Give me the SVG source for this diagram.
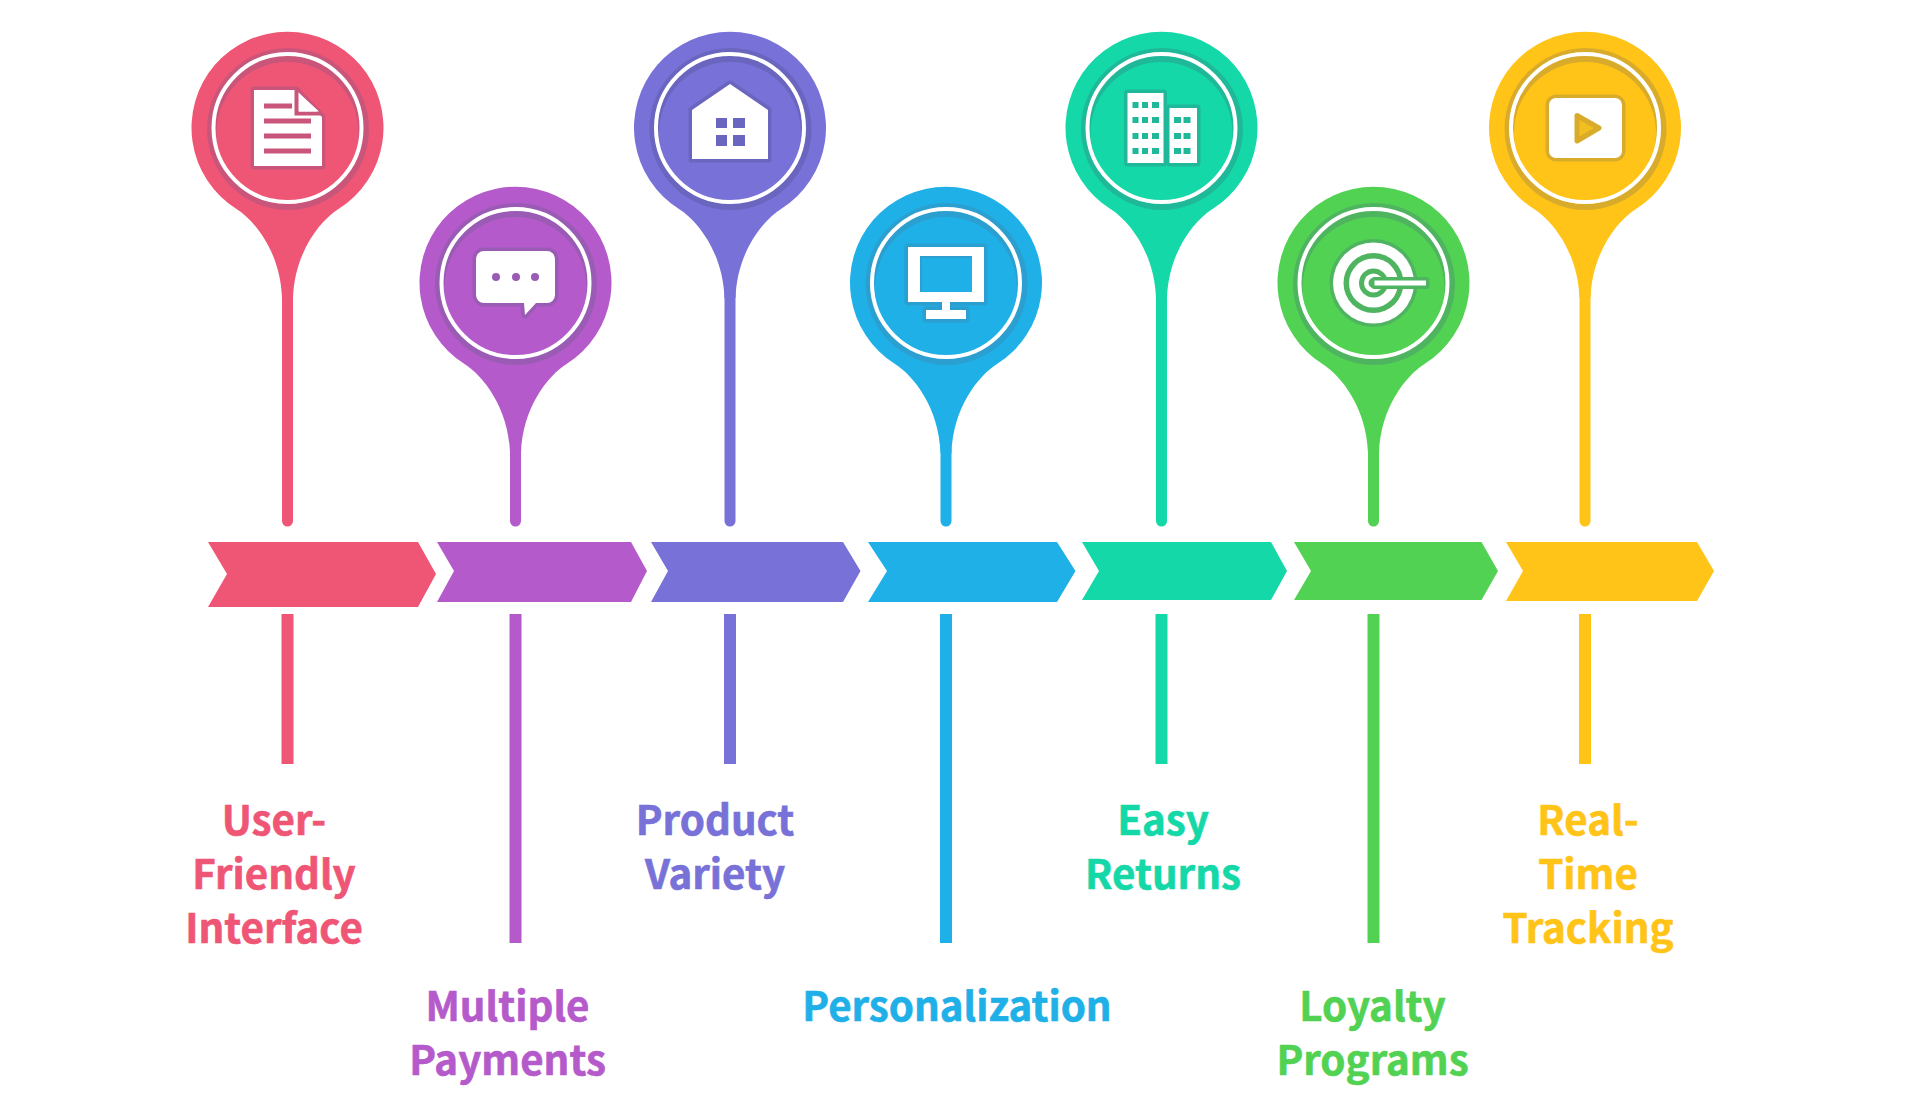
<svg xmlns="http://www.w3.org/2000/svg" width="1920" height="1099" viewBox="0 0 1920 1099">
<style>
.n1{--c:#EF5675;--d:#C9567A}
.n2{--c:#B55ACB;--d:#9A5BB4}
.n3{--c:#7771D8;--d:#6A65BE}
.n4{--c:#1FB0E8;--d:#2B9FCF}
.n5{--c:#14D8A8;--d:#1FB898}
.n6{--c:#52D253;--d:#4FB460}
.n7{--c:#FFC417;--d:#D9AB2B}
.base{fill:var(--c)}
.dark{fill:var(--d)}
.ring{fill:none;stroke:#fff;stroke-width:4}
.ic{fill:#fff;stroke:var(--d);stroke-width:7;paint-order:stroke;stroke-linejoin:round}
.mark{fill:var(--d)}
.st{stroke:var(--c);stroke-width:11;stroke-linecap:round;fill:none}
.sb{stroke:var(--c);stroke-width:12;fill:none}
text{font-family:"Noto Sans CJK SC","Noto Sans",sans-serif;font-weight:700;font-size:40.300px;text-anchor:middle;fill:var(--c);stroke:var(--c);stroke-width:.6}
</style>
<defs>
<g id="head">
<path class="base" d="M-51 81A96 96 0 1 1 51 81C32 93 7 125 5.500 170H-5.500C-7 125 -32 93 -51 81Z"/>
<circle class="dark" cx="0.500" cy="1" r="81"/>
<circle class="dark" r="72"/>
<circle class="base" cy="5" r="71"/>
<circle class="ring" r="74"/>
</g>
</defs>
<rect width="1920" height="1099" fill="#fff"/>
<g id="connectors">
<g class="n1"><line class="st" x1="287.500" y1="290" x2="287.500" y2="521"/><line class="sb" x1="287.500" y1="614" x2="287.500" y2="764"/></g>
<g class="n2"><line class="st" x1="515.500" y1="450" x2="515.500" y2="521"/><line class="sb" x1="515.500" y1="614" x2="515.500" y2="943"/></g>
<g class="n3"><line class="st" x1="730" y1="290" x2="730" y2="521"/><line class="sb" x1="730" y1="614" x2="730" y2="764"/></g>
<g class="n4"><line class="st" x1="946" y1="450" x2="946" y2="521"/><line class="sb" x1="946" y1="614" x2="946" y2="943"/></g>
<g class="n5"><line class="st" x1="1161.500" y1="290" x2="1161.500" y2="521"/><line class="sb" x1="1161.500" y1="614" x2="1161.500" y2="764"/></g>
<g class="n6"><line class="st" x1="1373.500" y1="450" x2="1373.500" y2="521"/><line class="sb" x1="1373.500" y1="614" x2="1373.500" y2="943"/></g>
<g class="n7"><line class="st" x1="1585" y1="290" x2="1585" y2="521"/><line class="sb" x1="1585" y1="614" x2="1585" y2="764"/></g>
</g>
<g id="node-user-friendly-interface" class="n1">
<use href="#head" x="287.500" y="128"/>
<path class="ic" d="M254 90H296L322 117V166H254Z"/>
<path d="M296.500 90V113.500H322" fill="none" stroke="#C9567A" stroke-width="4"/>
<path d="M299 93L319 111.500H299Z" fill="#fff"/>
<path class="mark" d="M264 103.500H292V108.500H264ZM264 118.500H311V123.500H264ZM264 133.500H311V138.500H264ZM264 148.500H311V153.500H264Z"/>
<path class="base" d="M208 542H418L436 574L418 607H208L227 574Z"/>
<text x="274" y="835">User-</text><text x="274" y="889">Friendly</text><text x="274" y="943">Interface</text>
</g>
<g id="node-multiple-payments" class="n2">
<use href="#head" x="515.500" y="283"/>
<path class="ic" d="M484 251H547A8 8 0 0 1 555 259V295A8 8 0 0 1 547 303H536L525 315L524 303H484A8 8 0 0 1 476 295V259A8 8 0 0 1 484 251Z"/>
<circle class="mark" cx="496" cy="277" r="4"/><circle class="mark" cx="516" cy="277" r="4"/><circle class="mark" cx="535" cy="277" r="4"/>
<path class="base" d="M437 542H631L647 571L631 602H437L454 571Z"/>
<text x="507.500" y="1021">Multiple</text><text x="507.500" y="1075">Payments</text>
</g>
<g id="node-product-variety" class="n3">
<use href="#head" x="730" y="128"/>
<path class="ic" d="M730 84L768 110V159H692V110Z"/>
<path class="mark" d="M716 118H727V128H716ZM733 118H745V128H733ZM716 135H727V146H716ZM733 135H745V146H733Z"/>
<path class="base" d="M651 542H843L860.500 571L843 602H651L668 571Z"/>
<text x="715" y="835">Product</text><text x="715" y="889">Variety</text>
</g>
<g id="node-personalization" class="n4">
<use href="#head" x="946" y="283"/>
<path class="ic" d="M908 247H984V302H950V310H966V319H926V310H942V302H908Z"/>
<rect x="920" y="256" width="52" height="36" class="dark"/>
<rect x="922" y="258" width="50" height="34" class="base"/>
<path class="base" d="M868 542H1057L1075.500 571L1057 602H868L887 571Z"/>
<text x="957" y="1021">Personalization</text>
</g>
<g id="node-easy-returns" class="n5">
<use href="#head" x="1161.500" y="128"/>
<path class="ic" d="M1127.500 93H1163.500V163H1127.500Z"/>
<path class="ic" d="M1169.500 108H1197V163H1169.500Z"/>
<path class="mark" d="M1132.500 102h6v6h-6zM1142 102h6v6h-6zM1152 102h7v6h-7zM1132.500 117h6v6h-6zM1142 117h6v6h-6zM1152 117h7v6h-7zM1132.500 133h6v6h-6zM1142 133h6v6h-6zM1152 133h7v6h-7zM1132.500 148h6v6h-6zM1142 148h6v6h-6zM1152 148h7v6h-7zM1174 117h7v6h-7zM1183.500 117h7v6h-7zM1174 133h7v6h-7zM1183.500 133h7v6h-7zM1174 148h7v6h-7zM1183.500 148h7v6h-7z"/>
<path class="base" d="M1082 542H1271L1287 571L1271 600H1082L1099 571Z"/>
<text x="1163" y="835">Easy</text><text x="1163" y="889">Returns</text>
</g>
<g id="node-loyalty-programs" class="n6">
<use href="#head" x="1373.500" y="283"/>
<circle class="dark" cx="1373.500" cy="283" r="44"/>
<circle cx="1373.500" cy="283" r="40.500" fill="#fff"/>
<circle class="dark" cx="1373.500" cy="283" r="30"/>
<circle cx="1373.500" cy="283" r="24.500" fill="#fff"/>
<circle class="dark" cx="1373.500" cy="283" r="14.500"/>
<circle cx="1373.500" cy="283" r="9.500" fill="#fff"/>
<circle class="dark" cx="1373.500" cy="283" r="5"/>
<path class="ic" d="M1374.500 280.500H1426V285.500H1374.500Z" stroke-width="5"/>
<path class="base" d="M1294 542H1481.500L1498 571L1481.500 600H1294L1311 571Z"/>
<text x="1372.500" y="1021">Loyalty</text><text x="1372.500" y="1075">Programs</text>
</g>
<g id="node-real-time-tracking" class="n7">
<use href="#head" x="1585" y="128"/>
<rect class="ic" x="1549" y="98" width="73" height="60" rx="7"/>
<path d="M1577 115.500L1599 128L1577 141Z" fill="#F2BE22" stroke="#D9AB2B" stroke-width="5" stroke-linejoin="round"/>
<path class="base" d="M1506 542H1697L1714 571L1697 601H1506L1523 571Z"/>
<text x="1588" y="835">Real-</text><text x="1588" y="889">Time</text><text x="1588" y="943">Tracking</text>
</g>
</svg>
